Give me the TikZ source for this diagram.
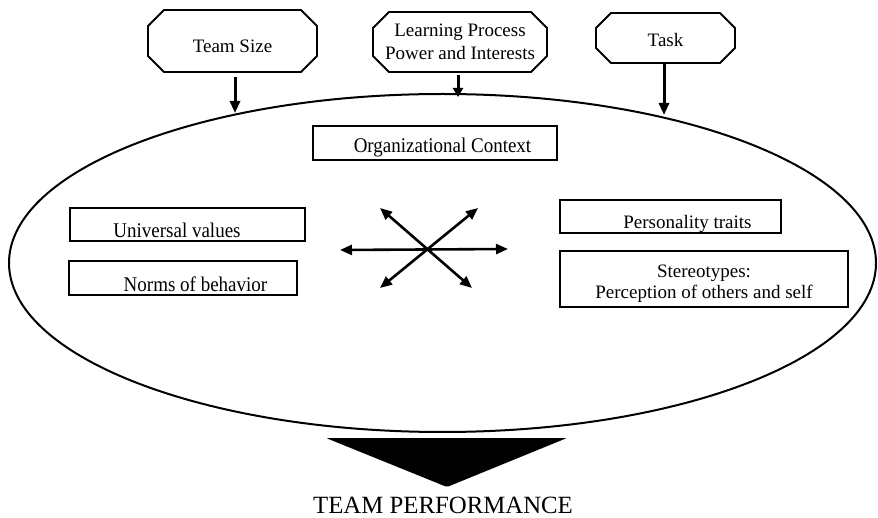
\documentclass[tikz,border=0pt]{standalone}
\usepackage{fontspec}
\usepackage{graphicx}
\setmainfont{Liberation Serif}
\usetikzlibrary{shapes.geometric,arrows.meta}
\newcommand\chamfbox[2]{%
 \draw[boxline] ([xshift=#2]#1.north west) -- ([xshift=-#2]#1.north east) -- ([yshift=-#2]#1.north east) -- ([yshift=#2]#1.south east) -- ([xshift=-#2]#1.south east) -- ([xshift=#2]#1.south west) -- ([yshift=#2]#1.south west) -- ([yshift=-#2]#1.north west) -- cycle;}
\newcommand\tallt[1]{\scalebox{1}[1.1]{#1}}
\tikzset{
 base/.style={font=\fontsize{19}{23}\selectfont, inner sep=0pt, outer sep=0pt},
 chamf/.style={base},
 rbox/.style={base, draw, line width=1.8pt},
 boxline/.style={line width=1.8pt, line join=miter},
 darr/.style={line width=3pt, -{Triangle[length=12pt,width=10pt]}},
 xarr/.style={line width=2.6pt, {Triangle[length=12pt,width=10pt]}-{Triangle[length=12pt,width=10pt]}},
}
\begin{document}
\begin{tikzpicture}[x=1pt,y=-1pt]
\useasboundingbox (0,0) rectangle (878,518);
\fill[white] (0,0) rectangle (878,518);
% outer ellipse
\node[draw, ellipse, line width=2pt, minimum width=867pt, minimum height=338pt, inner sep=0pt] (ell) at (442.5,263) {};
% top boxes
\node[chamf, minimum width=169pt, minimum height=62pt, text height=24pt, text depth=0pt] (ts) at (232.5,41) {Team Size};
\node[chamf, align=center, minimum width=174pt, minimum height=60pt] (lp) at (460,42) {Learning Process\\Power and Interests};
\node[chamf, minimum width=139pt, minimum height=50pt, text height=18pt, text depth=0pt] (task) at (665.5,38) {Task};
\chamfbox{ts}{16pt}
\chamfbox{lp}{16pt}
\chamfbox{task}{15pt}
% arrows into ellipse
\coordinate (t1) at (235,113);
\coordinate (t2) at (458,97);
\coordinate (t3) at (664,115);
\draw[darr, shorten <=5pt] (t1 |- ts.south) -- (t1);
\draw[line width=3pt, -{Triangle[length=9pt,width=10pt]}, shorten <=3pt] (t2 |- lp.south) -- (t2);
\draw[darr] (t3 |- task.south) -- (t3);
% inner boxes
\node[rbox, minimum width=244pt, minimum height=34pt, text height=20pt, text depth=0pt] (org) at (435,143) {\hspace*{15pt}\tallt{Organizational Context}};
\node[rbox, minimum width=235pt, minimum height=33pt, text height=27pt, text depth=0pt] (uv) at (187.5,224.5) {\tallt{Universal values}\hspace*{21pt}};
\node[rbox, minimum width=228pt, minimum height=34pt, text height=28pt, text depth=0pt] (nb) at (183,278) {\hspace*{25pt}\tallt{Norms of behavior}};
\node[rbox, minimum width=221pt, minimum height=33pt, text height=25pt, text depth=0pt] (pt) at (670.5,216.5) {\hspace*{34pt}Personality traits};
\node[rbox, align=center, font=\fontsize{19}{21}\selectfont, minimum width=288pt, minimum height=56pt] (st) at (704,279) {\rule{0pt}{23pt}Stereotypes:\\Perception of others and self};
% central arrows
\coordinate (aL) at (340,250);
\coordinate (aR) at (508,249);
\coordinate (aUL) at (380,208);
\coordinate (aDR) at (472,288);
\coordinate (aUR) at (478,208);
\coordinate (aDL) at (380,288);
\draw[xarr] (aL) -- (aR);
\draw[xarr] (aUL) -- (aDR);
\draw[xarr] (aUR) -- (aDL);
% big output arrow
\fill[rounded corners=1.5pt] (326,438) -- (567,438) -- (447,487) -- cycle;
\node[font=\fontsize{24.8}{28}\selectfont, anchor=base, inner sep=0pt] (tp) at (443,513) {TEAM PERFORMANCE};
\end{tikzpicture}
\end{document}
